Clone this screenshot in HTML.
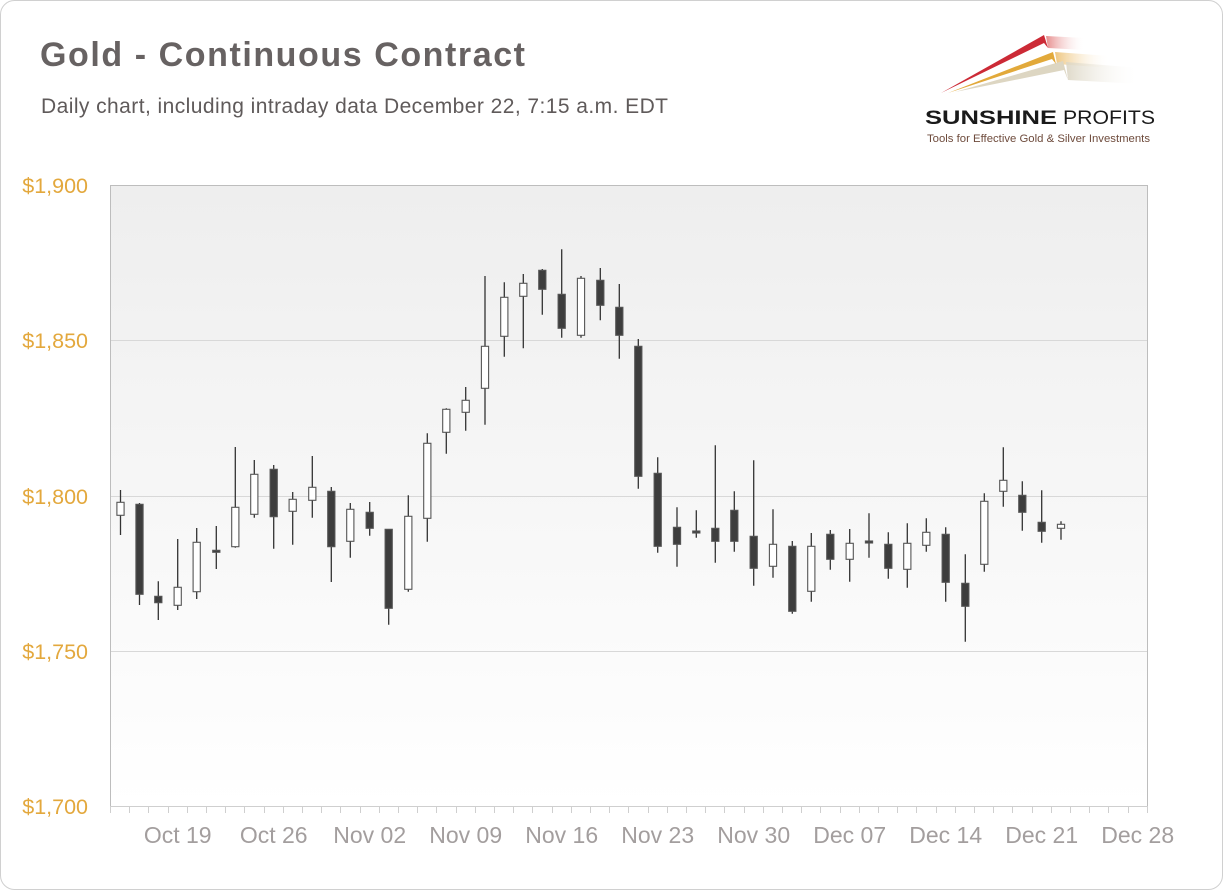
<!DOCTYPE html>
<html><head><meta charset="utf-8"><style>
html,body{margin:0;padding:0;background:#fff;}
svg{display:block;}
.W{fill:#ffffff;stroke:#555;stroke-width:1.1;}
.D{fill:#3d3d3d;stroke:#555;stroke-width:1.1;}
</style></head><body>
<svg width="1223" height="890" viewBox="0 0 1223 890" xmlns="http://www.w3.org/2000/svg" font-family="'Liberation Sans', sans-serif">
<defs>
<linearGradient id="bg" x1="0" y1="0" x2="0" y2="1">
<stop offset="0" stop-color="#eeeeee"/><stop offset="1" stop-color="#ffffff"/>
</linearGradient>
<linearGradient id="rt" x1="0" y1="0" x2="1" y2="0">
<stop offset="0" stop-color="#e07070" stop-opacity="0.8"/><stop offset="1" stop-color="#ffffff" stop-opacity="0"/>
</linearGradient>
<linearGradient id="gt" x1="0" y1="0" x2="1" y2="0">
<stop offset="0" stop-color="#eab860" stop-opacity="0.8"/><stop offset="1" stop-color="#ffffff" stop-opacity="0"/>
</linearGradient>
<linearGradient id="bt" x1="0" y1="0" x2="1" y2="0">
<stop offset="0" stop-color="#dcd6c4" stop-opacity="0.9"/><stop offset="1" stop-color="#ffffff" stop-opacity="0"/>
</linearGradient>
</defs>
<rect x="0.5" y="0.5" width="1222" height="889" rx="14" ry="14" fill="#fff" stroke="#d0d0d0"/>

<text x="40" y="66" font-size="34" font-weight="bold" fill="#676262" textLength="485" lengthAdjust="spacing">Gold - Continuous Contract</text>
<text x="41" y="113" font-size="21" fill="#5f5a5a" textLength="627" lengthAdjust="spacing">Daily chart, including intraday data December 22, 7:15 a.m. EDT</text>

<!-- logo -->
<polygon points="1046,36 1085,38 1085,50 1048,48" fill="url(#rt)"/>
<polygon points="1055,52 1110,56 1110,68 1057,64" fill="url(#gt)"/>
<polygon points="1066,62 1140,68 1140,84 1068,80" fill="url(#bt)"/>
<polygon points="955,92 1063,61 1068,80 1064,70" fill="#ddd6c2"/>
<polygon points="948,93 1053,52 1056,64 1052,59" fill="#e2a93a"/>
<polygon points="941,93 1044,35 1048,48 1044,43" fill="#cc2a36"/>
<text x="925" y="124" font-size="19.5" font-weight="bold" fill="#1a1a1a" textLength="132" lengthAdjust="spacingAndGlyphs">SUNSHINE</text>
<text x="1063" y="124" font-size="19.5" fill="#1a1a1a" textLength="92" lengthAdjust="spacingAndGlyphs">PROFITS</text>
<text x="927" y="142" font-size="11" fill="#6e4b3c" textLength="223" lengthAdjust="spacingAndGlyphs">Tools for Effective Gold &amp; Silver Investments</text>

<!-- plot area -->
<rect x="110" y="185.5" width="1037.5" height="620.5" fill="url(#bg)"/>
<line x1="110" y1="340.5" x2="1147" y2="340.5" stroke="#d8d8d8"/>
<line x1="110" y1="496.5" x2="1147" y2="496.5" stroke="#d8d8d8"/>
<line x1="110" y1="651.5" x2="1147" y2="651.5" stroke="#d8d8d8"/>
<polyline points="110.5,806 110.5,185.5 1147.5,185.5 1147.5,806" fill="none" stroke="#bdbdbd"/>
<line x1="110" y1="806.5" x2="1148" y2="806.5" stroke="#cfcfcf"/>
<path stroke="#cfcfcf" fill="none" d="M110.5 806V813M129.5 806V813M148.5 806V813M168.5 806V813M187.5 806V813M206.5 806V813M225.5 806V813M244.5 806V813M264.5 806V813M283.5 806V813M302.5 806V813M321.5 806V813M340.5 806V813M360.5 806V813M379.5 806V813M398.5 806V813M417.5 806V813M436.5 806V813M456.5 806V813M475.5 806V813M494.5 806V813M513.5 806V813M532.5 806V813M552.5 806V813M571.5 806V813M590.5 806V813M609.5 806V813M628.5 806V813M648.5 806V813M667.5 806V813M686.5 806V813M705.5 806V813M724.5 806V813M744.5 806V813M763.5 806V813M782.5 806V813M801.5 806V813M820.5 806V813M840.5 806V813M859.5 806V813M878.5 806V813M897.5 806V813M916.5 806V813M936.5 806V813M955.5 806V813M974.5 806V813M993.5 806V813M1012.5 806V813M1032.5 806V813M1051.5 806V813M1070.5 806V813M1089.5 806V813M1108.5 806V813M1128.5 806V813M1147.5 806V813"/>

<g font-size="21.5" fill="#e3a83d" text-anchor="end">
<text x="88" y="193">$1,900</text>
<text x="88" y="348">$1,850</text>
<text x="88" y="504">$1,800</text>
<text x="88" y="659">$1,750</text>
<text x="88" y="814">$1,700</text>
</g>
<g font-size="23" fill="#a39e9e" text-anchor="middle">
<text x="177.7" y="843">Oct 19</text>
<text x="273.7" y="843">Oct 26</text>
<text x="369.7" y="843">Nov 02</text>
<text x="465.7" y="843">Nov 09</text>
<text x="561.7" y="843">Nov 16</text>
<text x="657.7" y="843">Nov 23</text>
<text x="753.7" y="843">Nov 30</text>
<text x="849.7" y="843">Dec 07</text>
<text x="945.7" y="843">Dec 14</text>
<text x="1041.7" y="843">Dec 21</text>
<text x="1137.7" y="843">Dec 28</text>
</g>

<!-- wicks -->
<path stroke="#333" stroke-width="1.3" fill="none" d="M120.5 490V535M139.5 503V605M158.3 581.3V620M177.7 539V610M196.7 528V599M216.3 526V569M235.3 447V547.7M254.3 460V517.7M273.7 465V548.7M292.7 492V544.7M312.3 456V517.7M331.3 487V582M350.3 503V557.7M369.7 502V535.7M388.7 529V624.7M408.3 495.3V591.7M427.3 433.3V541.7M446.3 408.3V453.7M465.7 387V430.7M485 276V424.7M504.3 282.3V356.7M523.3 274V348.3M542.3 269V314.7M561.7 249.3V337.7M581 276V337.7M600.3 268V320.3M619.3 284V358.7M638.3 339V488.7M657.7 457.3V552.7M677 507.3V566.7M696.3 510.3V537.7M715.3 445.3V562.7M734.3 491.3V551.7M753.7 460.3V585.7M773 509.3V577.7M792.3 541V613.7M811.3 533V601.7M830.3 530V569.7M849.7 529V581.7M869 513.3V557.7M888.3 532.3V578.7M907.3 523.3V587.7M926.3 518.3V551.7M945.7 527.3V601.7M965.3 554.3V641.7M984.3 493.3V571.7M1003.3 447.3V506.7M1022.3 481.3V530.7M1041.7 490.3V542.7M1061 521.3V539.7"/>

<!-- bodies -->
<g>
<rect class="W" x="116.9" y="502.3" width="7.2" height="13"/>
<rect class="D" x="135.9" y="504.3" width="7.2" height="90"/>
<rect class="D" x="154.7" y="596.3" width="7.2" height="6.4"/>
<rect class="W" x="174.1" y="587.3" width="7.2" height="18"/>
<rect class="W" x="193.1" y="542.3" width="7.2" height="49.4"/>
<rect class="D" x="212.7" y="550.3" width="7.2" height="2"/>
<rect class="W" x="231.7" y="507.3" width="7.2" height="39.4"/>
<rect class="W" x="250.7" y="474.3" width="7.2" height="40"/>
<rect class="D" x="270.1" y="469.3" width="7.2" height="47.4"/>
<rect class="W" x="289.1" y="499.3" width="7.2" height="12"/>
<rect class="W" x="308.7" y="487.3" width="7.2" height="13"/>
<rect class="D" x="327.7" y="491.3" width="7.2" height="55.4"/>
<rect class="W" x="346.7" y="509.3" width="7.2" height="32"/>
<rect class="D" x="366.1" y="512.3" width="7.2" height="16"/>
<rect class="D" x="385.1" y="529.3" width="7.2" height="79"/>
<rect class="W" x="404.7" y="516.3" width="7.2" height="73"/>
<rect class="W" x="423.7" y="443.3" width="7.2" height="75"/>
<rect class="W" x="442.7" y="409.3" width="7.2" height="23"/>
<rect class="W" x="462.1" y="400.3" width="7.2" height="12"/>
<rect class="W" x="481.4" y="346.3" width="7.2" height="42"/>
<rect class="W" x="500.7" y="297.3" width="7.2" height="39"/>
<rect class="W" x="519.7" y="283.3" width="7.2" height="13"/>
<rect class="D" x="538.7" y="270.3" width="7.2" height="19"/>
<rect class="D" x="558.1" y="294.3" width="7.2" height="34"/>
<rect class="W" x="577.4" y="278.3" width="7.2" height="57"/>
<rect class="D" x="596.7" y="280.3" width="7.2" height="25"/>
<rect class="D" x="615.7" y="307.3" width="7.2" height="28"/>
<rect class="D" x="634.7" y="346.3" width="7.2" height="130"/>
<rect class="D" x="654.1" y="473.3" width="7.2" height="73"/>
<rect class="D" x="673.4" y="527.3" width="7.2" height="17"/>
<rect class="D" x="692.7" y="531" width="7.2" height="2"/>
<rect class="D" x="711.7" y="528.3" width="7.2" height="13"/>
<rect class="D" x="730.7" y="510.3" width="7.2" height="31"/>
<rect class="D" x="750.1" y="536.3" width="7.2" height="32"/>
<rect class="W" x="769.4" y="544.3" width="7.2" height="22"/>
<rect class="D" x="788.7" y="546.3" width="7.2" height="65"/>
<rect class="W" x="807.7" y="546.3" width="7.2" height="45"/>
<rect class="D" x="826.7" y="534.3" width="7.2" height="25"/>
<rect class="W" x="846.1" y="543.3" width="7.2" height="16"/>
<rect class="D" x="865.4" y="541" width="7.2" height="2"/>
<rect class="D" x="884.7" y="544.3" width="7.2" height="24"/>
<rect class="W" x="903.7" y="543.3" width="7.2" height="26"/>
<rect class="W" x="922.7" y="532.3" width="7.2" height="13"/>
<rect class="D" x="942.1" y="534.3" width="7.2" height="48"/>
<rect class="D" x="961.7" y="583.3" width="7.2" height="23"/>
<rect class="W" x="980.7" y="501.3" width="7.2" height="63"/>
<rect class="W" x="999.7" y="480.3" width="7.2" height="11"/>
<rect class="D" x="1018.7" y="495.3" width="7.2" height="17"/>
<rect class="D" x="1038.1" y="522.3" width="7.2" height="9"/>
<rect class="W" x="1057.4" y="524.3" width="7.2" height="4"/>
</g>
</svg>
</body></html>
